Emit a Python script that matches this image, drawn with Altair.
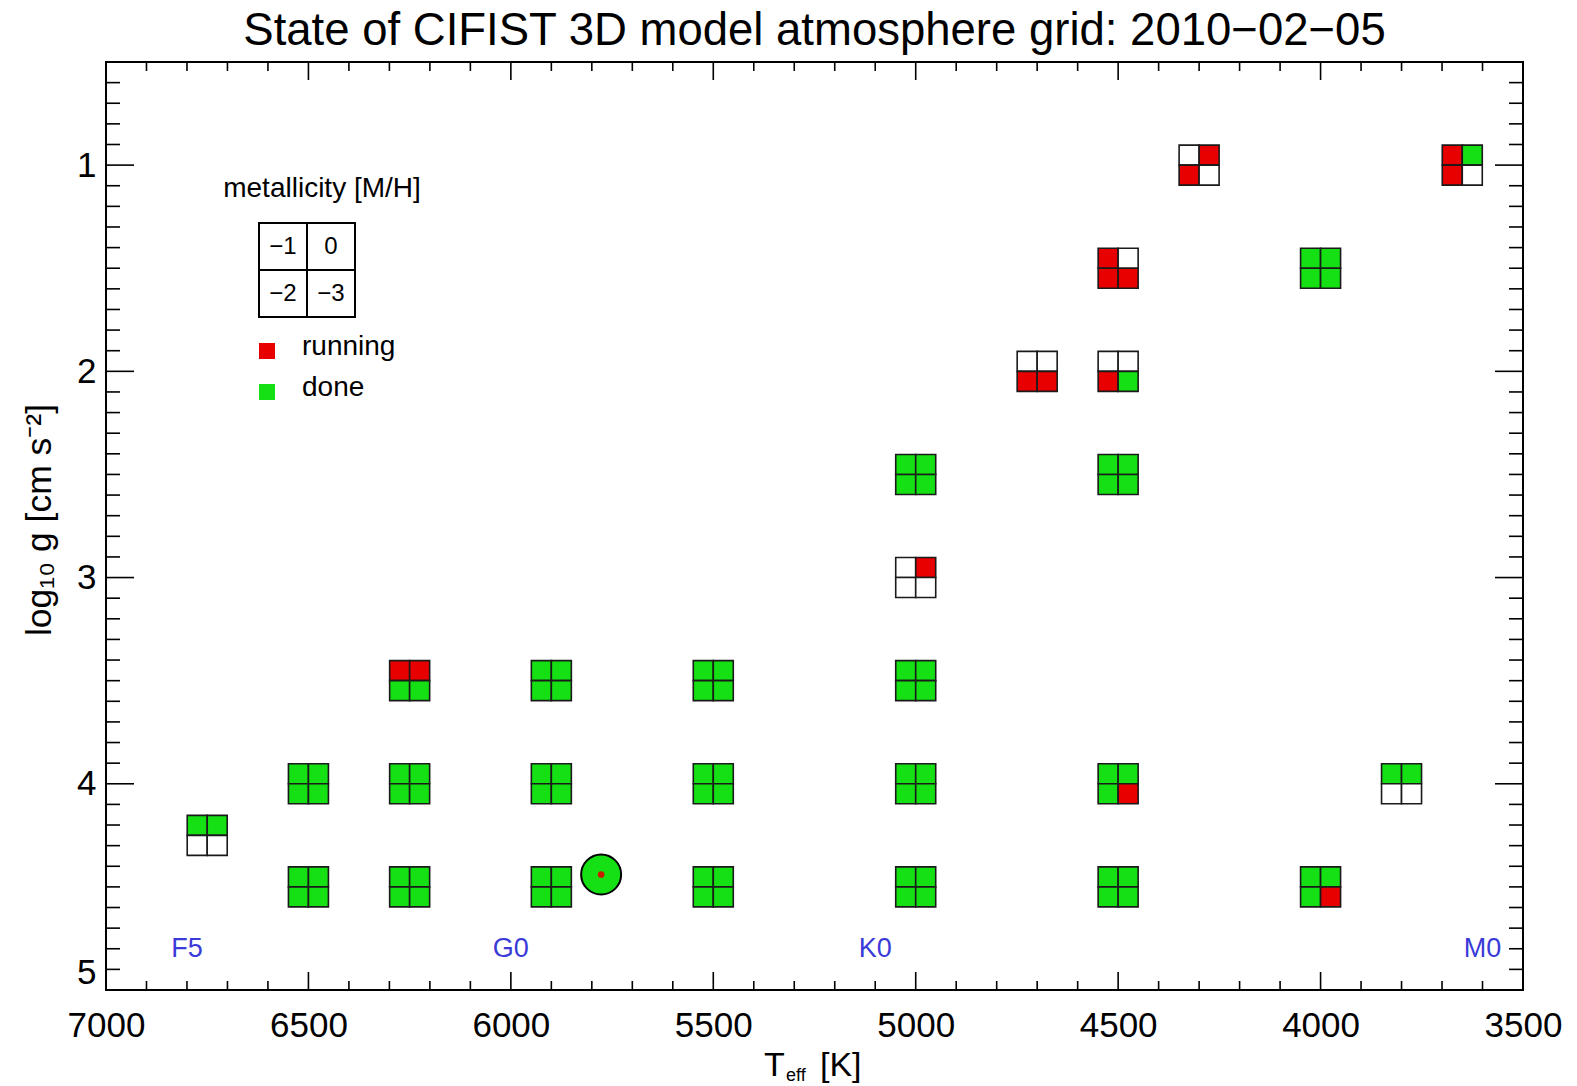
import altair as alt
import pandas as pd

# Plot-area size in pixels
W, H = 1417, 928
FONT = "Liberation Sans"

# Model grid points: effective temperature [K] and log g
teff = [4300, 3650, 4500, 4000, 4700, 4500, 5000, 4500, 5000,
        6250, 5900, 5500, 5000,
        6500, 6250, 5900, 5500, 5000, 4500, 3800,
        6750,
        6500, 6250, 5900, 5500, 5000, 4500, 4000]
logg = [1.0, 1.0, 1.5, 1.5, 2.0, 2.0, 2.5, 2.5, 3.0,
        3.5, 3.5, 3.5, 3.5,
        4.0, 4.0, 4.0, 4.0, 4.0, 4.0, 4.0,
        4.25,
        4.5, 4.5, 4.5, 4.5, 4.5, 4.5, 4.5]

# Run status of each metallicity at every grid point
D, R, N = "done", "running", "none"
status_mh_m1 = [N, R, R, D, N, N, D, D, N,
                R, D, D, D,
                D, D, D, D, D, D, D,
                D,
                D, D, D, D, D, D, D]
status_mh_0 = [R, D, N, D, N, N, D, D, R,
               R, D, D, D,
               D, D, D, D, D, D, D,
               D,
               D, D, D, D, D, D, D]
status_mh_m2 = [R, R, R, D, R, R, D, D, N,
                D, D, D, D,
                D, D, D, D, D, D, N,
                N,
                D, D, D, D, D, D, D]
status_mh_m3 = [N, N, R, D, R, D, D, D, N,
                D, D, D, D,
                D, D, D, D, D, R, N,
                N,
                D, D, D, D, D, D, R]

# The Sun
sun_teff = [5777]
sun_logg = [4.44]

# Spectral-type markers along the bottom
spec_types = ["F5", "G0", "K0", "M0"]
spec_teff = [6800, 6000, 5100, 3600]
spec_logg = [4.8, 4.8, 4.8, 4.8]

# Axis labels
x_labels = [3500, 4000, 4500, 5000, 5500, 6000, 6500, 7000]
y_labels = [1, 2, 3, 4, 5]

GREEN, RED, BLUE = "#14e014", "#e80000", "#3a3ad8"

# Long table: one row per (grid point, metallicity)
rows = []
for mh, col in [(-1, status_mh_m1), (0, status_mh_0), (-2, status_mh_m2), (-3, status_mh_m3)]:
    for t, g, s in zip(teff, logg, col):
        rows.append({"teff": t, "logg": g, "mh": mh, "status": s})
grid = pd.DataFrame(rows)

xs = alt.Scale(domain=[3500, 7000], reverse=True, nice=False, zero=False)
ys = alt.Scale(domain=[0.5, 5.0], reverse=True, nice=False, zero=False)
status_scale = alt.Scale(domain=[D, R, N], range=[GREEN, RED, "white"])

# Axis labels only; ticks are drawn separately, pointing inward
x_axis = alt.Axis(values=x_labels, format="d", labelFont=FONT, labelFontSize=35,
                  labelColor="black", ticks=False, domain=False, grid=False,
                  labelPadding=18, labelFlush=False, labelOverlap=False, title=None)
y_axis = alt.Axis(values=y_labels, format="d", labelFont=FONT, labelFontSize=35,
                  labelColor="black", ticks=False, domain=False, grid=False,
                  labelPadding=10, labelFlush=True, labelOverlap=False, title=None)


def X(field):
    return alt.X(field, scale=xs, axis=x_axis)


def Y(field):
    return alt.Y(field, scale=ys, axis=y_axis)


one = pd.DataFrame({"k": [0]})
layers = []

x_major = list(range(3500, 7001, 500))
x_minor = [v for v in range(3500, 7001, 100) if v % 500]
y_major = [1.0, 2.0, 3.0, 4.0, 5.0]
y_minor = [round(0.5 + 0.1 * i, 1) for i in range(46) if (5 + i) % 10]


def x_tick_layers(vals, length):
    src = alt.Chart(pd.DataFrame({"t": vals}))
    bottom = src.mark_rule(color="black", strokeWidth=1.6).encode(
        x=X("t:Q"), y=alt.value(H), y2=alt.value(H - length))
    top = src.mark_rule(color="black", strokeWidth=1.6).encode(
        x=X("t:Q"), y=alt.value(0), y2=alt.value(length))
    return [bottom, top]


def y_tick_layers(vals, length):
    src = alt.Chart(pd.DataFrame({"v": vals}))
    left = src.mark_rule(color="black", strokeWidth=1.6).encode(
        y=Y("v:Q"), x=alt.value(0), x2=alt.value(length))
    right = src.mark_rule(color="black", strokeWidth=1.6).encode(
        y=Y("v:Q"), x=alt.value(W), x2=alt.value(W - length))
    return [left, right]


layers += x_tick_layers(x_major, 18)
layers += x_tick_layers(x_minor, 9)
layers += y_tick_layers(y_major, 28)
layers += y_tick_layers(y_minor, 14)

# Four-cell squares: [M/H] = -1 top-left, 0 top-right, -2 bottom-left, -3 bottom-right
CELL = 20
for mh, dx, dy in [(-1, -1, -1), (0, 1, -1), (-2, -1, 1), (-3, 1, 1)]:
    layers.append(
        alt.Chart(grid).transform_filter(alt.datum.mh == mh)
        .mark_square(size=CELL * CELL, filled=True, opacity=1, stroke="#1a1a1a",
                     strokeWidth=1.6, xOffset=dx * CELL / 2, yOffset=dy * CELL / 2)
        .encode(x=X("teff:Q"), y=Y("logg:Q"),
                fill=alt.Fill("status:N", scale=status_scale, legend=None))
    )

# Solar symbol
sun = pd.DataFrame({"teff": sun_teff, "logg": sun_logg})
layers.append(
    alt.Chart(sun).mark_point(shape="circle", filled=True, opacity=1, size=1600,
                              fill=GREEN, stroke="black", strokeWidth=2)
    .encode(x=X("teff:Q"), y=Y("logg:Q"))
)
layers.append(
    alt.Chart(sun).mark_point(shape="circle", filled=True, opacity=1, size=45, fill="#c81e00",
                              strokeWidth=0)
    .encode(x=X("teff:Q"), y=Y("logg:Q"))
)

# Spectral types
spec = pd.DataFrame({"teff": spec_teff, "logg": spec_logg, "sp": spec_types})
layers.append(
    alt.Chart(spec).mark_text(font=FONT, fontSize=27, color=BLUE, align="center", baseline="middle")
    .encode(x=X("teff:Q"), y=Y("logg:Q"), text="sp:N")
)


def label(text, x, y, size, align="center", baseline="middle", color="black", angle=0):
    return alt.Chart(one).mark_text(text=text, font=FONT, fontSize=size, align=align,
                                    baseline=baseline, color=color, angle=angle).encode(
        x=alt.value(x), y=alt.value(y))


# Title and axis titles
layers.append(label("State of CIFIST 3D model atmosphere grid: 2010\u221202\u221205",
                    W / 2, -17, 45.5, baseline="alphabetic"))
layers.append(label("T", 658, 1014, 34, align="left", baseline="alphabetic"))
layers.append(label("eff", 680, 1019, 18, align="left", baseline="alphabetic"))
layers.append(label("[K]", 714, 1014, 34, align="left", baseline="alphabetic"))
layers.append(label("log\u2081\u2080 g [cm s\u207b\u00b2]", -66, 458, 35.5, angle=270))

# Metallicity key
layers.append(label("metallicity [M/H]", 216, 127, 28))
KX0, KX1, KY0, KY1 = 153, 249, 161, 255
kxm, kym = (KX0 + KX1) / 2, (KY0 + KY1) / 2
for x0, x1, y0, y1 in [(KX0, kxm, KY0, kym), (kxm, KX1, KY0, kym),
                       (KX0, kxm, kym, KY1), (kxm, KX1, kym, KY1)]:
    layers.append(
        alt.Chart(one).mark_rect(fill="white", stroke="black", strokeWidth=2).encode(
            x=alt.value(x0), x2=alt.value(x1), y=alt.value(y0), y2=alt.value(y1))
    )
for txt, cx, cy in [("\u22121", (KX0 + kxm) / 2, (KY0 + kym) / 2),
                    ("0", (kxm + KX1) / 2, (KY0 + kym) / 2),
                    ("\u22122", (KX0 + kxm) / 2, (kym + KY1) / 2),
                    ("\u22123", (kxm + KX1) / 2, (kym + KY1) / 2)]:
    layers.append(label(txt, cx, cy, 24))

for col, txt, cy in [(RED, "running", 287), (GREEN, "done", 328)]:
    layers.append(
        alt.Chart(one).mark_square(size=256, filled=True, opacity=1, color=col).encode(
            x=alt.value(161), y=alt.value(cy + 2))
    )
    layers.append(label(txt, 196, cy - 2, 28, align="left"))

chart = alt.layer(*layers).properties(
    width=W, height=H,
    autosize=alt.AutoSizeParams(type="none"),
    padding={"left": 106, "top": 62, "right": 54, "bottom": 96},
    background="white",
).configure_view(stroke="black", strokeWidth=2)

chart.save("out.html", embed_options={"renderer": "svg", "actions": False})
